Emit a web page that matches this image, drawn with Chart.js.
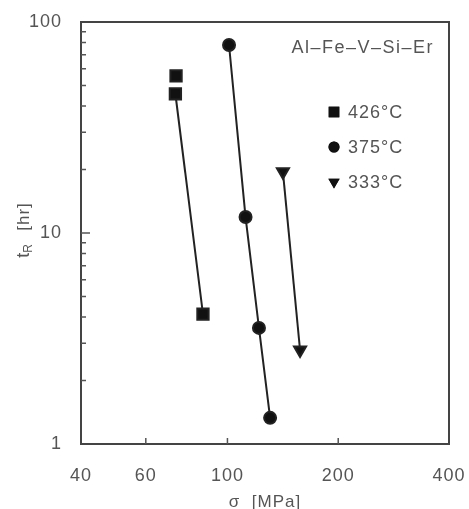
<!DOCTYPE html>
<html>
<head>
<meta charset="utf-8">
<script src="https://cdn.jsdelivr.net/npm/chart.js@4"></script>
<style>
  html, body { margin: 0; padding: 0; background: #fff; }
  #wrap { width: 469px; height: 509px; }
</style>
</head>
<body>
<div id="wrap"><canvas id="ruptureChart" width="469" height="509"></canvas></div>
<script>
// values
var temps = ['426°C', '375°C', '333°C'];
var stress426 = [72.5, 72.2, 85.8];
var life426 = [55.5, 45.6, 4.13];
var stress375 = [101, 112, 121.8, 130.6];
var life375 = [77.8, 11.9, 3.55, 1.33];
var stress333 = [141.5, 157.5];
var life333 = [19.5, 2.79];
var xTicks = [40, 60, 100, 200, 400];
var yTicks = [1, 10, 100];
var xMinor = [60, 100, 200];
var yMinor = [2, 3, 4, 5, 6, 7, 8, 9, 20, 30, 40, 50, 60, 70, 80, 90];
var yMajor = [10];
var alloy = 'Al–Fe–V–Si–Er';

var font = 'Liberation Sans, Arial, sans-serif';
var ink = '#111';
var textGray = '#555';

function pts(xs, ys) {
  return xs.map(function (v, i) { return { x: v, y: ys[i] }; });
}

// the scanned figure uses a wide, loosely spaced face
var spacing = {
  id: 'spacing',
  beforeUpdate: function (chart) { chart.ctx.letterSpacing = '1px'; },
  beforeDraw: function (chart) { chart.ctx.letterSpacing = '1px'; }
};

var frameAndTicks = {
  id: 'frameAndTicks',
  afterDraw: function (chart) {
    var ctx = chart.ctx, a = chart.chartArea, x = chart.scales.x, y = chart.scales.y;
    ctx.save();
    ctx.strokeStyle = '#444';
    ctx.lineWidth = 2;
    ctx.strokeRect(a.left, a.top, a.right - a.left, a.bottom - a.top);
    ctx.lineWidth = 1.5;
    ctx.strokeStyle = '#555';
    ctx.beginPath();
    yMinor.forEach(function (v) {
      var py = y.getPixelForValue(v);
      ctx.moveTo(a.left, py); ctx.lineTo(a.left + 5, py);
    });
    yMajor.forEach(function (v) {
      var py = y.getPixelForValue(v);
      ctx.moveTo(a.left, py); ctx.lineTo(a.left + 9, py);
    });
    xMinor.forEach(function (v) {
      var px = x.getPixelForValue(v);
      ctx.moveTo(px, a.bottom); ctx.lineTo(px, a.bottom - 6);
    });
    ctx.stroke();

    // y title with subscript
    ctx.fillStyle = textGray;
    ctx.translate(24, (a.top + a.bottom) / 2 - 3);
    ctx.rotate(-Math.PI / 2);
    ctx.textBaseline = 'middle';
    ctx.textAlign = 'left';
    ctx.font = '18px ' + font;
    var w1 = ctx.measureText('t').width;
    ctx.font = '12px ' + font;
    var w2 = ctx.measureText('R').width;
    ctx.font = '17px ' + font;
    var w3 = ctx.measureText('  [hr]').width;
    var sx = -(w1 + w2 + w3) / 2;
    ctx.font = '18px ' + font;
    ctx.fillText('t', sx, 0);
    ctx.font = '12px ' + font;
    ctx.fillText('R', sx + w1 - 1, 5);
    ctx.font = '17px ' + font;
    ctx.fillText('  [hr]', sx + w1 + w2, 0);
    ctx.restore();

    // alloy label and legend
    ctx.save();
    ctx.fillStyle = textGray;
    ctx.font = '18px ' + font;
    ctx.textAlign = 'right';
    ctx.textBaseline = 'middle';
    ctx.letterSpacing = '1.5px';
    ctx.fillText(alloy, a.right - 15, a.top + 26);
    ctx.letterSpacing = '1px';
    ctx.textAlign = 'left';
    var styles = ['rect', 'circle', 'triangle'];
    var sizes = [7.5, 5.5, 6.5];
    temps.forEach(function (t, i) {
      var ly = a.top + 90 + i * 35;
      var lx = a.left + 253;
      ctx.fillStyle = ink;
      Chart.helpers.drawPoint(ctx, { pointStyle: styles[i], radius: sizes[i], rotation: i === 2 ? 180 : 0, borderWidth: 0 }, lx, ly);
      ctx.fill();
      ctx.fillStyle = textGray;
      ctx.fillText(t, lx + 14, ly + 1);
    });
    ctx.restore();
  }
};

var ctx = document.getElementById('ruptureChart').getContext('2d');
var ruptureChart = new Chart(ctx, {
  type: 'scatter',
  data: {
    datasets: [{
      label: temps[0],
      data: pts(stress426, life426),
      showLine: true,
      borderColor: '#222',
      backgroundColor: ink,
      borderWidth: 2,
      pointStyle: 'rect',
      pointRadius: 8,
      segment: {
        borderColor: function (c) { return c.p0DataIndex === 0 ? 'rgba(0,0,0,0)' : '#222'; }
      }
    }, {
      label: temps[1],
      data: pts(stress375, life375),
      showLine: true,
      borderColor: '#222',
      backgroundColor: ink,
      borderWidth: 2,
      pointStyle: 'circle',
      pointRadius: 6
    }, {
      label: temps[2],
      data: pts(stress333, life333),
      showLine: true,
      borderColor: '#222',
      backgroundColor: ink,
      borderWidth: 2,
      pointStyle: 'triangle',
      pointRotation: 180,
      pointRadius: 7
    }]
  },
  options: {
    responsive: false,
    animation: false,
    layout: { padding: { left: 0, right: 20, top: 22, bottom: 0 } },
    plugins: { legend: { display: false }, tooltip: { enabled: false } },
    elements: { point: { borderWidth: 0 } },
    scales: {
      x: {
        type: 'logarithmic',
        min: 40,
        max: 400,
        afterBuildTicks: function (s) { s.ticks = xTicks.map(function (v) { return { value: v }; }); },
        afterFit: function (s) { s.height = 65; s.paddingLeft = 0; s.paddingRight = 0; },
        grid: { drawOnChartArea: false, drawTicks: false, display: false },
        border: { display: false },
        ticks: {
          padding: 21,
          color: textGray,
          font: { family: font, size: 18 },
          maxRotation: 0,
          autoSkip: false,
          callback: function (v) { return String(v); }
        },
        title: {
          display: true,
          text: 'σ  [MPa]',
          color: textGray,
          font: { family: font, size: 17 },
          padding: { top: 0, bottom: -4 }
        }
      },
      y: {
        type: 'logarithmic',
        min: 1,
        max: 100,
        afterBuildTicks: function (s) { s.ticks = yTicks.map(function (v) { return { value: v }; }); },
        afterFit: function (s) { s.width = 81; s.paddingTop = 0; s.paddingBottom = 0; },
        grid: { drawOnChartArea: false, drawTicks: false, display: false },
        border: { display: false },
        ticks: {
          padding: 19,
          color: textGray,
          font: { family: font, size: 18 },
          autoSkip: false,
          callback: function (v) { return String(v); }
        }
      }
    }
  },
  plugins: [spacing, frameAndTicks]
});
</script>
</body>
</html>
